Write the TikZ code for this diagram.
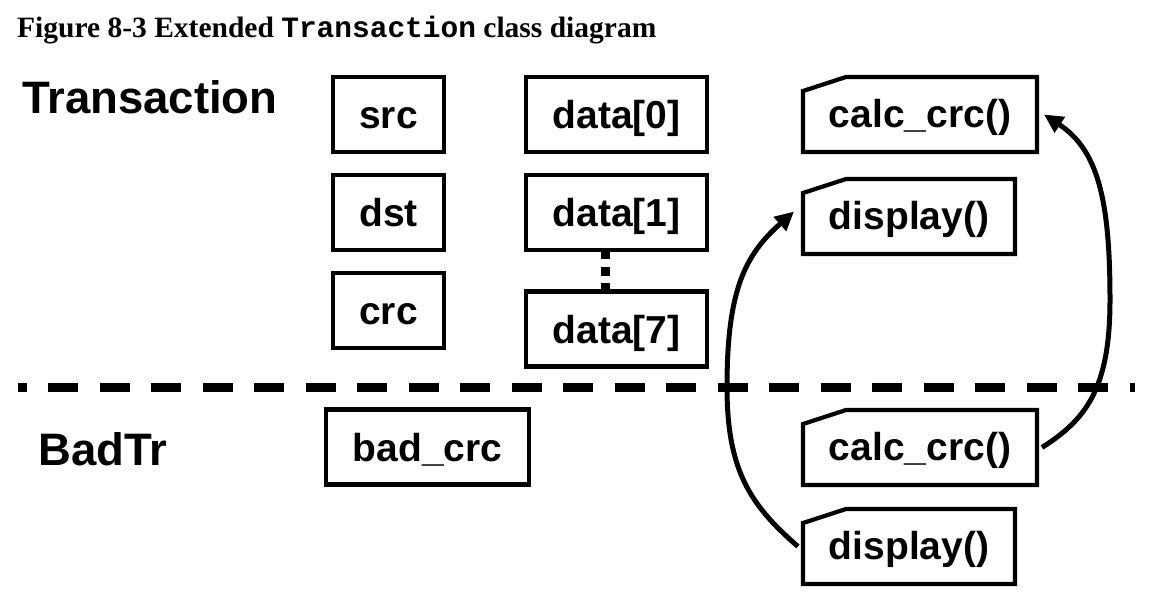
\documentclass[tikz,border=0pt]{standalone}
\usepackage{fontspec}
\setmainfont{Liberation Serif}
\setsansfont{Liberation Sans}
\setmonofont{Liberation Mono}
\usetikzlibrary{positioning}
\usetikzlibrary{arrows.meta, positioning}
\tikzstyle{field} = [draw, line width=4.2pt, outer sep=0pt, inner sep=0pt, minimum height=75pt, text height=36pt, text depth=8pt, font=\sffamily\bfseries\fontsize{39pt}{41pt}\selectfont]
\tikzstyle{method} = [field, draw=none, text height=34pt]
\tikzstyle{boxline} = [line width=4.2pt, line join=miter]
\tikzstyle{callarrow} = [line width=5pt, -{Triangle[length=19pt,width=18pt]}]
\tikzstyle{classname} = [anchor=base west, inner sep=0pt, font=\sffamily\bfseries\fontsize{45.5pt}{47pt}\selectfont]

\begin{document}
\begin{tikzpicture}[x=1pt, y=-1pt]
    \useasboundingbox (0,0) rectangle (1151,597);

    % Caption
    \node[anchor=base west, inner sep=0pt, font=\bfseries\fontsize{29.5pt}{31pt}\selectfont] (caption) at (17,37) {Figure 8-3 Extended \texttt{Transaction} class diagram};

    % Class names
    \node[classname] (trans) at (22,113) {Transaction};
    \node[classname] (badtr) at (38,465) {BadTr};

    % Fields
    \node[field, minimum width=111pt] (src) at (388.5,114.5) {src};
    \node[field, minimum width=111pt, below=23pt of src] (dst) {dst};
    \node[field, minimum width=111pt, below=23pt of dst] (crc) {crc};
    \node[field, minimum width=181pt, right=82pt of src] (data0) {data[0]};
    \node[field, minimum width=181pt, below=23pt of data0] (data1) {data[1]};
    \node[field, minimum width=181pt, below=41.5pt of data1] (data7) {data[7]};
    \node[field, minimum width=203pt] (badcrc) at (427.5,447) {bad\_crc};

    % Methods
    \node[method, minimum width=234pt, right=96pt of data0] (calcA) {calc\_crc()};
    \node[method, minimum width=212pt, below=27pt of calcA.south west, anchor=north west] (dispA) {display()};
    \node[method, minimum width=234pt] (calcB) at (920,447.5) {calc\_crc()};
    \node[method, minimum width=212pt, below=24pt of calcB.south west, anchor=north west] (dispB) {display()};
    \foreach \m in {calcA,dispA,calcB,dispB}
        \draw[boxline] (\m.south west) -- (\m.south east) -- (\m.north east) -- ([xshift=43pt]\m.north west) -- ([yshift=-14pt]\m.north west) -- cycle;

    % Separator
    \draw[line width=9pt, dash pattern=on 30pt off 21.5pt, dash phase=21.5pt] (18,387) -- (1135,387);

    % Edges
    \draw[line width=9pt, dash pattern=on 9pt off 7.5pt] ([xshift=-11.5pt]data1.south) -- ([xshift=-11.5pt]data7.north);
    \draw[callarrow] ([xshift=-5pt]dispB.west) .. controls (750,505) and (727,470) .. (727,387) .. controls (727,290) and (745,255) .. ([xshift=-9pt,yshift=5pt]dispA.west);
    \draw[callarrow] ([xshift=5pt]calcB.east) .. controls (1085,420) and (1110,390) .. (1110,300) .. controls (1110,200) and (1098,150) .. ([xshift=7pt]calcA.east);
\end{tikzpicture}
\end{document}
